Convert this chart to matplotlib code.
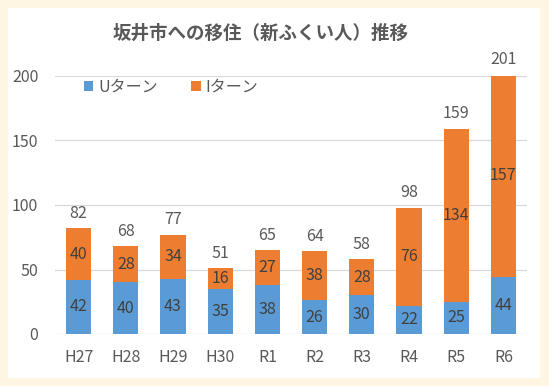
import numpy as np
import matplotlib.pyplot as plt
from matplotlib.patches import Rectangle

plt.rcParams['font.family'] = ['Noto Sans CJK JP', 'DejaVu Sans']

# data
years = ["H27", "H28", "H29", "H30", "R1", "R2", "R3", "R4", "R5", "R6"]
u_turn = [42, 40, 43, 35, 38, 26, 30, 22, 25, 44]
i_turn = [40, 28, 34, 16, 27, 38, 28, 76, 134, 157]
total = [u + i for u, i in zip(u_turn, i_turn)]

blue = "#5B9BD5"
orange = "#ED7D31"
gray = "#595959"

fig = plt.figure(figsize=(5.49, 3.86), dpi=100)
fig.patch.set_facecolor("#FEF5E3")
# white chart area
fig.patches.append(Rectangle((8 / 549, 8 / 386), 532 / 549, 370 / 386,
                             transform=fig.transFigure, facecolor="white",
                             edgecolor="none", zorder=-10))

ax = fig.add_axes([55 / 549, 52 / 386, 472 / 549, 258 / 386])
ax.set_facecolor("none")
x = np.arange(len(years))
w = 0.53
ax.bar(x, u_turn, w, color=blue, label="Uターン", zorder=2)
ax.bar(x, i_turn, w, bottom=u_turn, color=orange, label="Iターン", zorder=2)

for xi, u, i, t in zip(x, u_turn, i_turn, total):
    ax.text(xi, u / 2, str(u), ha="center", va="center", fontsize=11.5, color="#404040", zorder=3)
    ax.text(xi, u + i / 2, str(i), ha="center", va="center", fontsize=11.5, color="#404040", zorder=3)
    ax.text(xi, t + 5, str(t), ha="center", va="bottom", fontsize=11.5, color=gray, zorder=3)

ax.set_xlim(-0.5, len(years) - 0.5)
ax.set_ylim(0, 200)
ax.set_yticks([0, 50, 100, 150, 200])
ax.set_xticks(x)
ax.set_xticklabels(years)
ax.grid(axis="y", color="#D9D9D9", linewidth=0.9, zorder=1)
for s in ax.spines.values():
    s.set_visible(False)
ax.tick_params(length=0, colors=gray, labelsize=11.5)
ax.tick_params(axis="x", pad=11)
ax.tick_params(axis="y", pad=12)

ax.legend(loc="upper left", bbox_to_anchor=(0.03, 1.045), ncol=2, frameon=False,
          fontsize=11.5, handlelength=0.6, handleheight=0.6, columnspacing=2.1,
          handletextpad=0.3, labelcolor=gray)

fig.text(261 / 549, 1 - 33 / 386, "坂井市への移住（新ふくい人）推移", ha="center", va="center",
         fontsize=13.3, fontweight="bold", color=gray)

fig.savefig("out.png", dpi=100, facecolor=fig.get_facecolor())
